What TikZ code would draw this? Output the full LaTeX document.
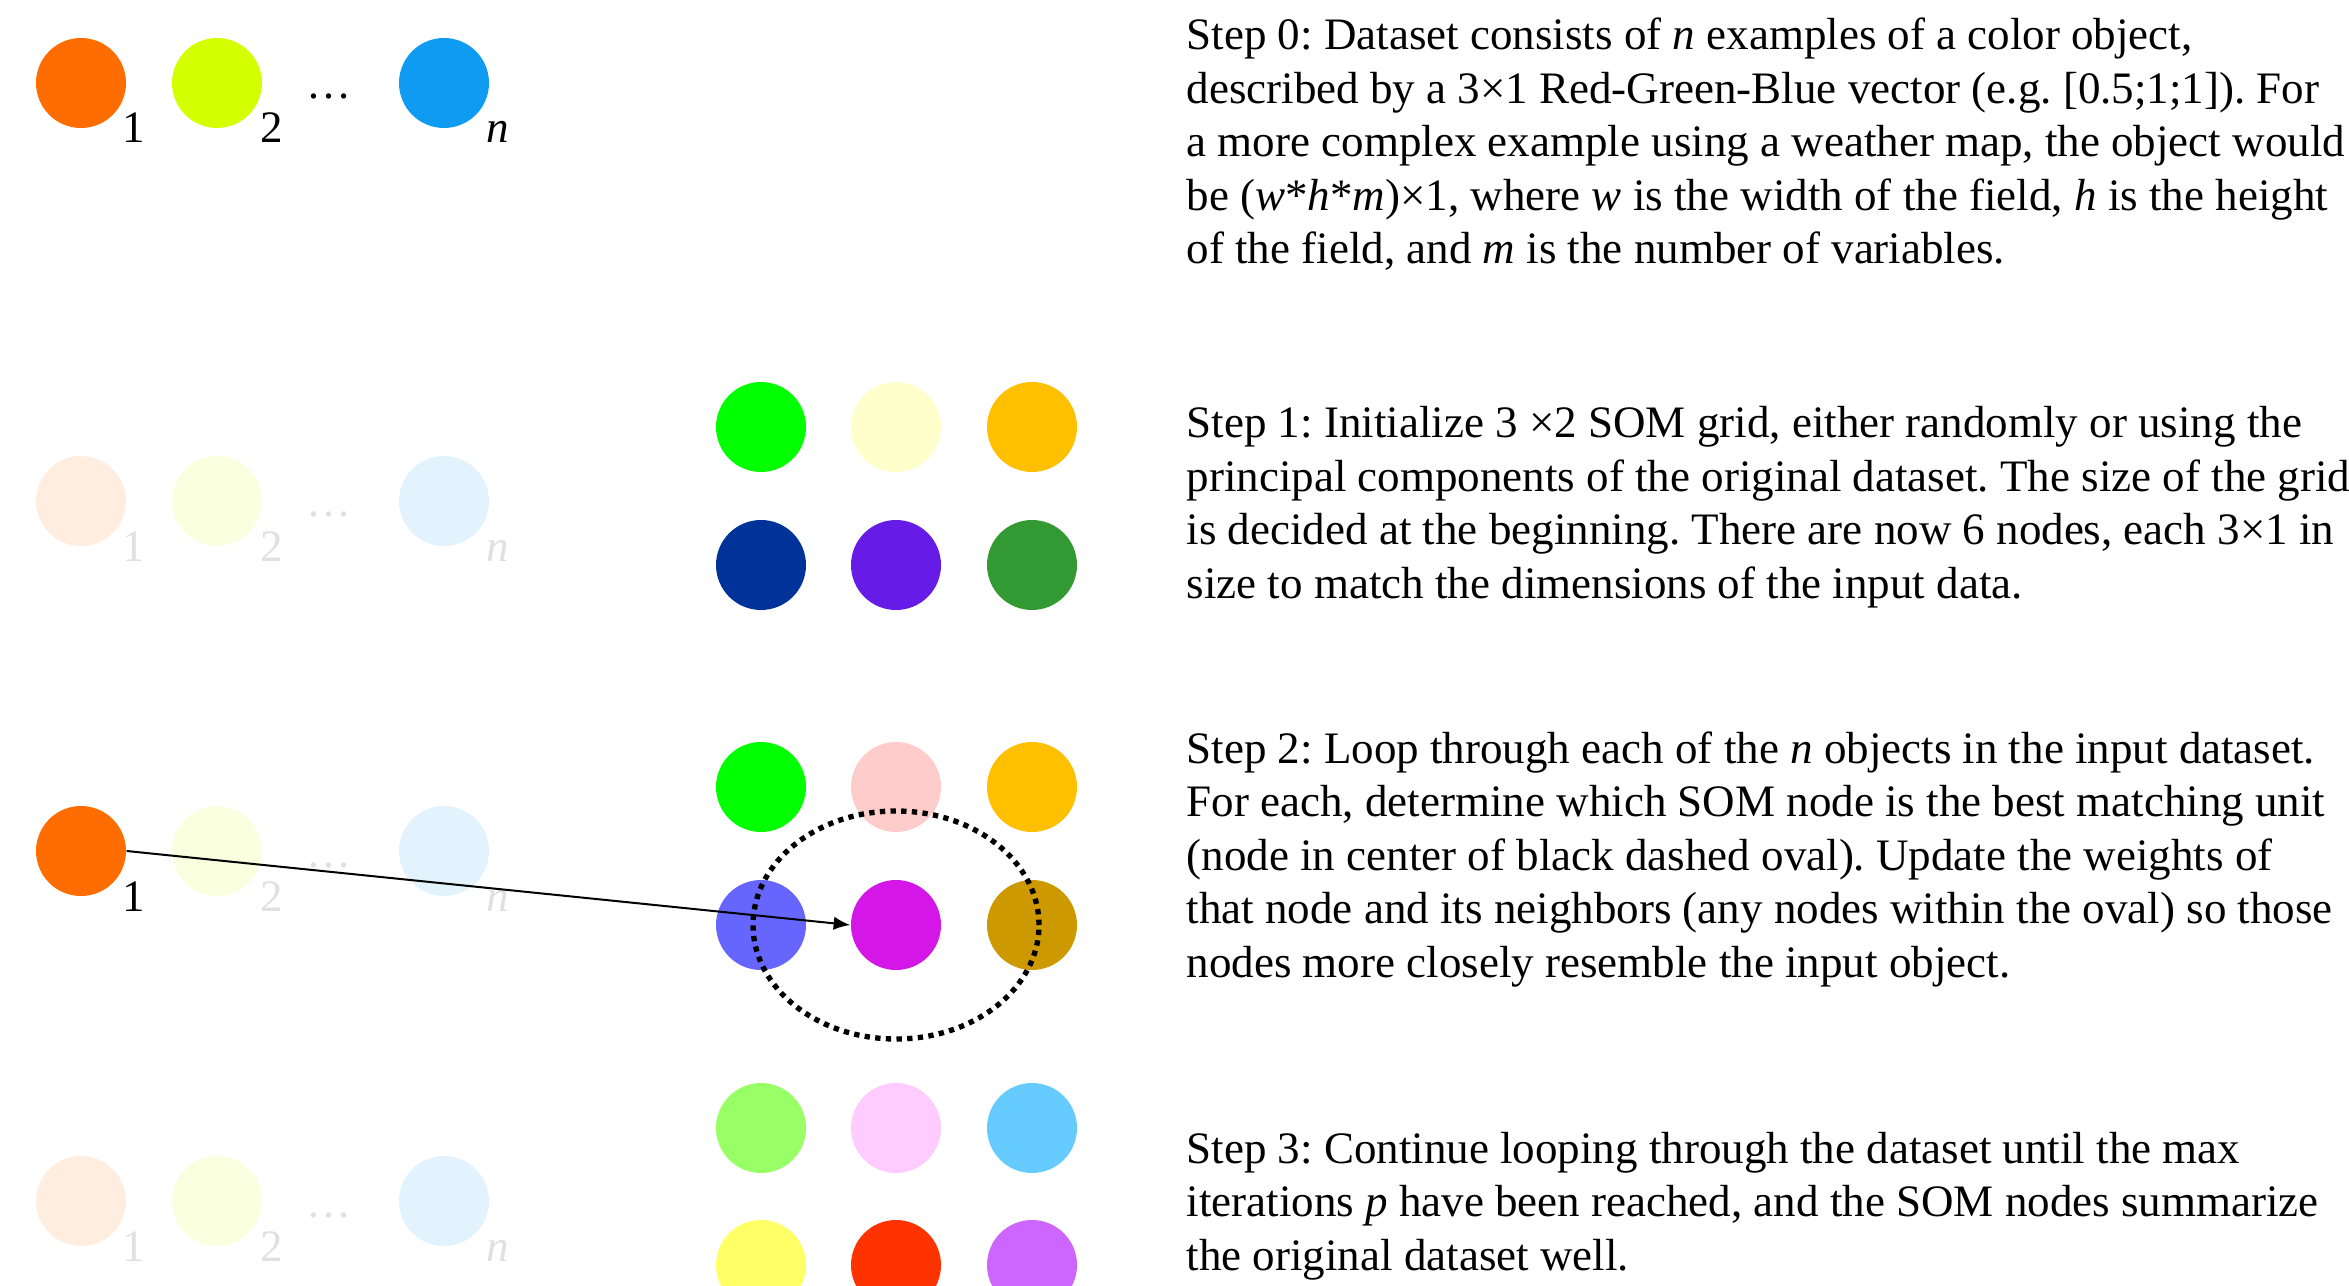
\documentclass[tikz,border=0pt]{standalone}
\usepackage{fontspec}
\setmainfont{Liberation Serif}
\usetikzlibrary{shapes.geometric,arrows.meta}

\definecolor{objone}{HTML}{FF6D00}
\definecolor{objtwo}{HTML}{D4FF00}
\definecolor{objn}{HTML}{109BF2}

\begin{document}
\frenchspacing
\begin{tikzpicture}[x=0.3pt,y=-0.3pt]
\tikzstyle{unit}=[circle,inner sep=0pt,minimum size=27pt]
\tikzstyle{idx}=[anchor=base,inner sep=0pt,font=\fontsize{13.5pt}{16pt}\selectfont]
\tikzstyle{steptext}=[anchor=base west,align=left,inner sep=0pt,font=\fontsize{13.5pt}{16.05pt}\selectfont]
\tikzstyle{nbhd}=[ellipse,draw,inner sep=0pt,minimum width=85.8pt,minimum height=68.4pt,line width=1.6pt,dash pattern=on 1.6pt off 1.6pt]
\useasboundingbox (0,0) rectangle (2349,1286);
\clip (0,0) rectangle (2349,1286);

% input objects, one row per step
\foreach \r/\y/\fa/\fb in {a/83/1/1, b/501/0.12/0.12, c/851/1/0.12, d/1201/0.12/0.12}{
  \node[unit,fill=objone,opacity=\fa] (\r1) at (81,\y) {};
  \node[unit,fill=objtwo,opacity=\fb] (\r2) at (217,\y) {};
  \node[unit,fill=objn,opacity=\fb] (\r n) at (444,\y) {};
  \node[idx,opacity=\fa] (\r l1) at (134,\y+60) {1};
  \node[idx,opacity=\fb] (\r l2) at (272,\y+60) {2};
  \node[idx,opacity=\fb] (\r ld) at (329,\y+16) {\dots};
  \node[idx,opacity=\fb] (\r ln) at (498,\y+60) {\textit{n}};
}

% SOM grids
\foreach \n/\x/\y/\c in {
  s11/761/427/00FF00, s12/896/427/FFFFCC, s13/1032/427/FFC000,
  s14/761/565/003399, s15/896/565/661BE6, s16/1032/565/339933,
  s21/761/787/00FF00, s22/896/787/FFCCCC, s23/1032/787/FFC000,
  s24/761/925/6666FF, s25/896/925/D417E6, s26/1032/925/CC9900,
  s31/761/1128/99FF66, s32/896/1128/FFCCFF, s33/1032/1128/66CCFF,
  s34/761/1265/FFFF66, s35/896/1265/FF3300, s36/1032/1265/CC66FF}{
  \definecolor{cell}{HTML}{\c}
  \node[unit,fill=cell] (\n) at (\x,\y) {};
}

\node[nbhd] (bmu) at (s25) {};
\draw[-{Latex[length=5pt,width=4pt]},line width=0.6pt] (c1.east) -- (s25.west);

% step descriptions (anchored at the baseline of the last line)
\node[steptext] (t0) at (1186,264) {Step 0: Dataset consists of \textit{n} examples of a color object,\\
described by a 3×1 Red-Green-Blue vector (e.g. [0.5;1;1]). For\\
a more complex example using a weather map, the object would\\
be (\textit{w}*\textit{h}*\textit{m})×1, where \textit{w} is the width of the field, \textit{h} is the height\\
of the field, and \textit{m} is the number of variables.};
\node[steptext] (t1) at (1186,598) {Step 1: Initialize 3 ×2 SOM grid, either randomly or using the\\
principal components of the original dataset. The size of the grid\\
is decided at the beginning. There are now 6 nodes, each 3×1 in\\
size to match the dimensions of the input data.};
\node[steptext] (t2) at (1186,977) {Step 2: Loop through each of the \textit{n} objects in the input dataset.\\
For each, determine which SOM node is the best matching unit\\
(node in center of black dashed oval). Update the weights of\\
that node and its neighbors (any nodes within the oval) so those\\
nodes more closely resemble the input object.};
\node[steptext] (t3) at (1186,1270) {Step 3: Continue looping through the dataset until the max\\
iterations \textit{p} have been reached, and the SOM nodes summarize\\
the original dataset well.};
\end{tikzpicture}
\end{document}
